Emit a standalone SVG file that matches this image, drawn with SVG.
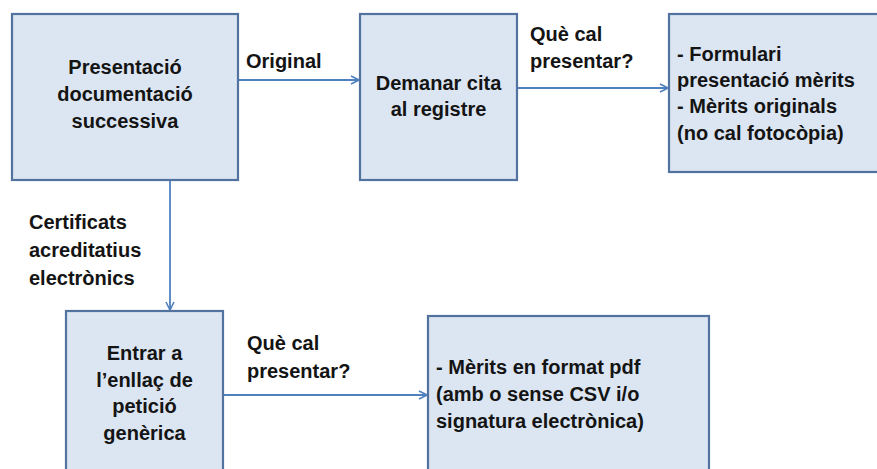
<svg xmlns="http://www.w3.org/2000/svg" width="877" height="469" viewBox="0 0 877 469">
  <style>
    .box { fill: #dce6f2; stroke: #52739f; stroke-width: 2.2; }
    .t { font-family: "Liberation Sans", Arial, sans-serif; font-weight: bold; font-size: 20px; fill: #141414; }
    .c { text-anchor: middle; }
    .conn { stroke: #4f81bd; stroke-width: 1.8; fill: none; }
  </style>
  <defs>
    <marker id="arr" viewBox="0 0 10 10" refX="9" refY="5" markerWidth="10" markerHeight="10" markerUnits="userSpaceOnUse" orient="auto">
      <path d="M1,1 L9,5 L1,9" fill="none" stroke="#4f81bd" stroke-width="1.6"/>
    </marker>
  </defs>
  <rect width="877" height="469" fill="#ffffff"/>

  <g id="connectors">
    <line class="conn" x1="239" y1="80" x2="359" y2="80" marker-end="url(#arr)"/>
    <line class="conn" x1="518" y1="88" x2="668" y2="88" marker-end="url(#arr)"/>
    <line class="conn" x1="170" y1="181" x2="170" y2="310" marker-end="url(#arr)"/>
    <line class="conn" x1="224" y1="395" x2="427" y2="395" marker-end="url(#arr)"/>
    <text class="t" x="246" y="68">Original</text>
    <text class="t" x="530" y="41">Què cal</text>
    <text class="t" x="530" y="68">presentar?</text>
    <text class="t" x="29" y="229">Certificats</text>
    <text class="t" x="29" y="257">acreditatius</text>
    <text class="t" x="29" y="285">electrònics</text>
    <text class="t" x="247" y="350">Què cal</text>
    <text class="t" x="247" y="378">presentar?</text>
  </g>

  <g id="node-presentacio">
    <rect class="box" x="12" y="14" width="226" height="166"/>
    <text class="t c" x="125" y="74">Presentació</text>
    <text class="t c" x="125" y="101">documentació</text>
    <text class="t c" x="125" y="128">successiva</text>
  </g>

  <g id="node-demanar">
    <rect class="box" x="360" y="14" width="157" height="166"/>
    <text class="t c" x="438.5" y="90">Demanar cita</text>
    <text class="t c" x="438.5" y="116">al registre</text>
  </g>

  <g id="node-formulari">
    <rect class="box" x="669" y="14" width="215" height="158"/>
    <text class="t" x="677" y="61">- Formulari</text>
    <text class="t" x="677" y="87">presentació mèrits</text>
    <text class="t" x="677" y="113">- Mèrits originals</text>
    <text class="t" x="677" y="140">(no cal fotocòpia)</text>
  </g>

  <g id="node-entrar">
    <rect class="box" x="66" y="311" width="157" height="170"/>
    <text class="t c" x="144.5" y="360">Entrar a</text>
    <text class="t c" x="144.5" y="387">l’enllaç de</text>
    <text class="t c" x="144.5" y="413">petició</text>
    <text class="t c" x="144.5" y="440">genèrica</text>
  </g>

  <g id="node-merits-pdf">
    <rect class="box" x="428" y="316" width="281" height="165"/>
    <text class="t" x="436" y="374">- Mèrits en format pdf</text>
    <text class="t" x="436" y="401">(amb o sense CSV i/o</text>
    <text class="t" x="436" y="428">signatura electrònica)</text>
  </g>
</svg>
